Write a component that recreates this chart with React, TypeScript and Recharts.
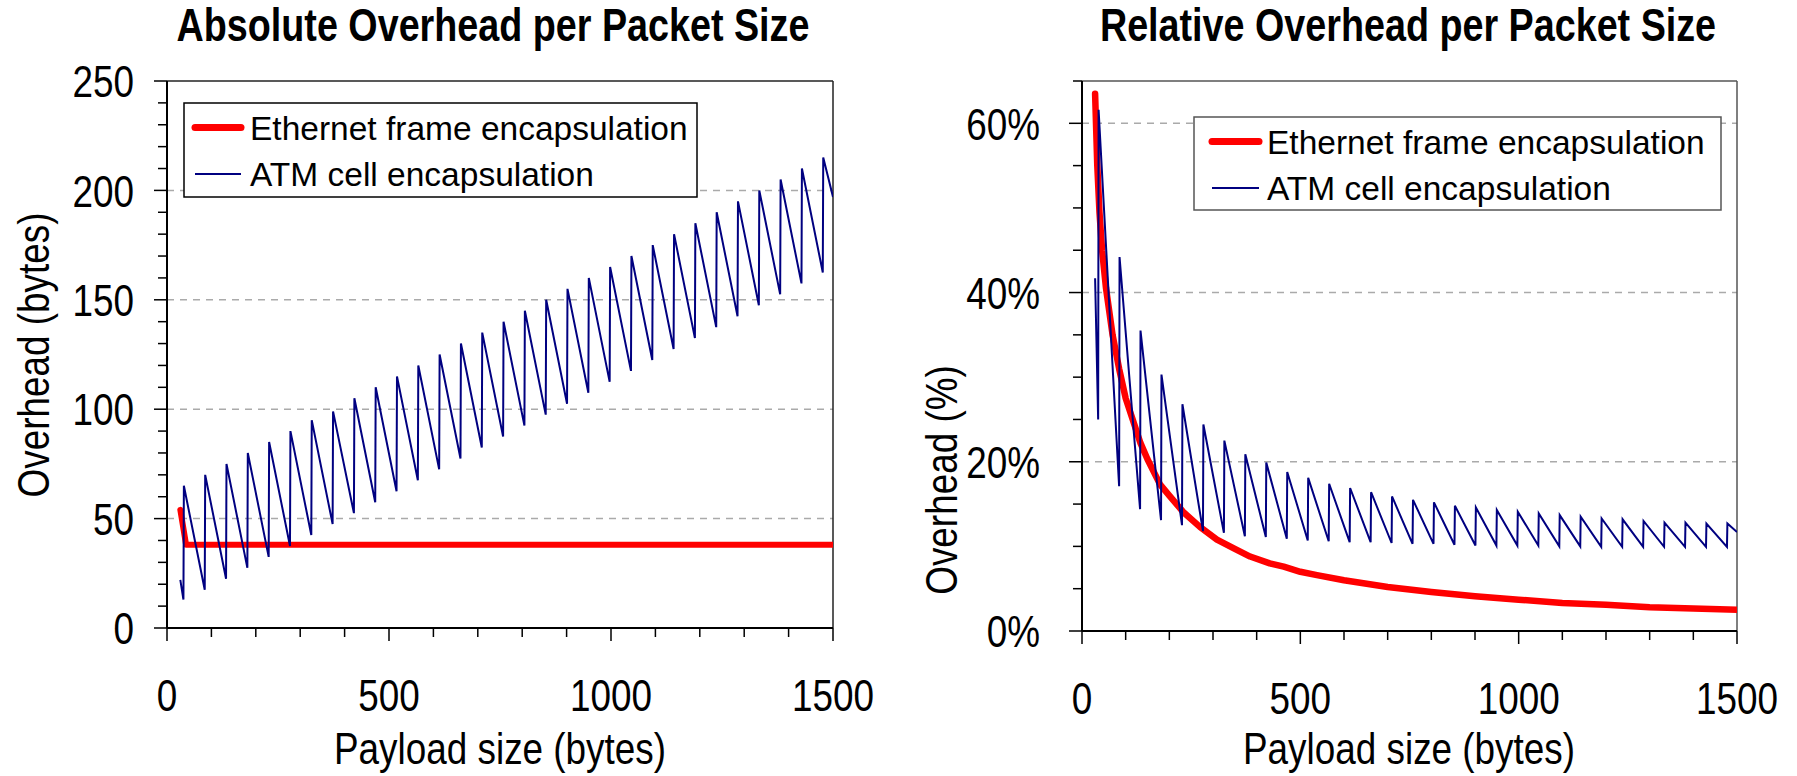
import { LineChart, Line, XAxis, YAxis, ReferenceLine } from 'recharts'

const FONT = "'Liberation Sans', Arial, Helvetica, sans-serif"
const NARROW = 0.82
const RED = '#ff0000'
const NAVY = '#000080'

// ATM: payload (bytes) where a tooth jumps up (new cell) and where it bottoms out
const atmPeakX = [38, 86, 134, 182, 230, 278, 326, 374, 422, 470, 518, 566, 614, 662, 710, 758, 806, 854, 902, 950, 998, 1046, 1094, 1142, 1190, 1238, 1286, 1334, 1382, 1430, 1478]
const atmTroughX = [85, 133, 181, 229, 277, 325, 373, 421, 469, 517, 565, 613, 661, 709, 757, 805, 853, 901, 949, 997, 1045, 1093, 1141, 1189, 1237, 1285, 1333, 1381, 1429, 1477]
const atmHeadX = [30, 37]
const atmEndX = 1500

// absolute overhead (bytes)
const atmAbsHead = [22, 13]
const atmAbsPeak = [65, 70, 75, 80, 85, 90, 95, 99, 105, 110, 115, 120, 125, 130, 135, 140, 145, 150, 155, 160, 165, 170, 175, 180, 185, 190, 195, 200, 205, 210, 215]
const atmAbsTrough = [17.5, 22.5, 27.5, 32.5, 37.5, 42.5, 47.5, 52.5, 57.5, 62.5, 67.5, 72.5, 77.5, 82.5, 87.5, 92.5, 97.5, 102.5, 107.5, 112.5, 117.5, 122.5, 127.5, 132.5, 137.5, 142.5, 147.5, 152.5, 157.5, 162.5]
const atmAbsEnd = 197

const ethAbsX = [30, 43, 1500]
const ethAbsY = [54, 38, 38]

// relative overhead (%)
const atmRelHead = [41.7, 25]
const atmRelPeak = [61.6, 44.2, 35.5, 30.3, 26.8, 24.4, 22.5, 20.9, 19.9, 18.8, 18.1, 17.4, 16.9, 16.4, 15.9, 15.5, 15.2, 14.8, 14.6, 14.3, 14.1, 13.9, 13.7, 13.5, 13.3, 13.2, 13.0, 12.8, 12.8, 12.7, 12.7]
const atmRelTrough = [17.1, 14.4, 13.1, 12.5, 11.8, 11.6, 11.2, 11.1, 10.9, 10.7, 10.6, 10.5, 10.5, 10.4, 10.3, 10.3, 10.2, 10.1, 10.1, 10.1, 10.1, 10.0, 10.0, 9.95, 9.95, 9.95, 9.95, 9.95, 9.95, 9.95]
const atmRelEnd = 11.7

const ethRelX = [30, 35, 40, 46, 55, 70, 85, 100, 134, 150, 179, 200, 233, 270, 309, 350, 385, 430, 462, 500, 538, 600, 700, 800, 900, 1000, 1100, 1200, 1300, 1400, 1500]
const ethRelY = [63.5, 55, 49.5, 45, 40.5, 35, 31, 27.5, 22.2, 20.3, 17.3, 16, 14, 12.3, 10.8, 9.7, 8.8, 8, 7.6, 7, 6.6, 6, 5.2, 4.6, 4.1, 3.7, 3.3, 3.1, 2.8, 2.65, 2.5]

// axes
const xTicks = [0, 100, 200, 300, 400, 500, 600, 700, 800, 900, 1000, 1100, 1200, 1300, 1400, 1500]
const xLabels = [0, 500, 1000, 1500]
const absTicks = [0, 10, 20, 30, 40, 50, 60, 70, 80, 90, 100, 110, 120, 130, 140, 150, 160, 170, 180, 190, 200, 210, 220, 230, 240, 250]
const absLabels = [0, 50, 100, 150, 200, 250]
const absGrid = [50, 100, 150, 200]
const relTicks = [0, 5, 10, 15, 20, 25, 30, 35, 40, 45, 50, 55, 60, 65]
const relLabels = [0, 20, 40, 60]
const relGrid = [20, 40, 60]

const zip = (xs: number[], ys: number[]) => xs.map((x, i) => ({ x, y: ys[i] }))

function sawtooth(head: number[], peak: number[], trough: number[], end: number) {
  const pts = zip(atmHeadX, head)
  atmPeakX.forEach((x, i) => {
    pts.push({ x, y: peak[i] })
    if (i < trough.length) pts.push({ x: atmTroughX[i], y: trough[i] })
  })
  pts.push({ x: atmEndX, y: end })
  return pts
}

const yTick = (labels: number[], fmt: (v: number) => string, gap: number) => (p: any) => {
  const { x, y, payload } = p
  const major = labels.includes(payload.value)
  return (
    <g>
      <line x1={x - (major ? 13 : 9)} x2={x} y1={y} y2={y} stroke="#000" strokeWidth={1.5} />
      {major && (
        <text transform={`translate(${x - gap},${y}) scale(${NARROW},1)`} textAnchor="end" dy="0.36em"
          fontSize={45} fontFamily={FONT} fill="#000">{fmt(payload.value)}</text>
      )}
    </g>
  )
}

const xTick = (p: any) => {
  const { x, y, payload } = p
  const major = xLabels.includes(payload.value)
  return (
    <g>
      <line x1={x} x2={x} y1={y} y2={y + (major ? 13 : 9)} stroke="#000" strokeWidth={1.5} />
      {major && (
        <text transform={`translate(${x},${y + 83}) scale(${NARROW},1)`} textAnchor="middle"
          fontSize={45} fontFamily={FONT} fill="#000">{payload.value}</text>
      )}
    </g>
  )
}

interface PanelProps {
  width: number
  margin: { top: number; right: number; bottom: number; left: number }
  yMax: number
  yTicks: number[]
  yLabels: number[]
  grid: number[]
  fmt: (v: number) => string
  gap: number
  eth: Array<{ x: number; y: number }>
  atm: Array<{ x: number; y: number }>
  ethWidth: number
  frame: string
}

function Panel({ width, margin, yMax, yTicks, yLabels, grid, fmt, gap, eth, atm, ethWidth, frame }: PanelProps) {
  return (
    <LineChart width={width} height={776} margin={margin}>
      <XAxis type="number" dataKey="x" domain={[0, 1500]} ticks={xTicks} interval={0} allowDataOverflow
        height={40} tickLine={false} tickSize={0} tickMargin={0} tick={xTick}
        axisLine={{ stroke: '#000', strokeWidth: 2 }} />
      <YAxis type="number" dataKey="y" domain={[0, yMax]} ticks={yTicks} interval={0} allowDataOverflow
        width={60} tickLine={false} tickSize={0} tickMargin={0} tick={yTick(yLabels, fmt, gap)}
        axisLine={{ stroke: '#000', strokeWidth: 2 }} />
      {grid.map((v) => (
        <ReferenceLine key={v} y={v} stroke="#aaaaaa" strokeWidth={1.5} strokeDasharray="7 6" />
      ))}
      <ReferenceLine y={yMax} stroke={frame} strokeWidth={1.5} />
      <ReferenceLine x={1500} stroke={frame} strokeWidth={1.5} />
      <Line data={eth} dataKey="y" type="linear" stroke={RED} strokeWidth={ethWidth} strokeLinecap="round"
        strokeLinejoin="round" dot={false} activeDot={false} isAnimationActive={false} />
      <Line data={atm} dataKey="y" type="linear" stroke={NAVY} strokeWidth={2} dot={false} activeDot={false}
        isAnimationActive={false} />
    </LineChart>
  )
}

function LegendBox({ x, y, w, h, border, sx, sw, tx, r1, r2 }: {
  x: number; y: number; w: number; h: number; border: string; sx: number; sw: number; tx: number; r1: number; r2: number
}) {
  const fs = 33.5
  return (
    <g>
      <rect x={x} y={y} width={w} height={h} fill="#fff" stroke={border} strokeWidth={1.5} />
      <line x1={sx} x2={sx + sw} y1={r1} y2={r1} stroke={RED} strokeWidth={7} strokeLinecap="round" />
      <line x1={sx} x2={sx + sw} y1={r2} y2={r2} stroke={NAVY} strokeWidth={2} />
      <text x={tx} y={r1} dy="0.36em" fontSize={fs} fontFamily={FONT} fill="#000">Ethernet frame encapsulation</text>
      <text x={tx} y={r2} dy="0.36em" fontSize={fs} fontFamily={FONT} fill="#000">ATM cell encapsulation</text>
    </g>
  )
}

function Narrow({ x, y, size, bold, rotate, children }: { x: number; y: number; size: number; bold?: boolean; rotate?: boolean; children: string }) {
  return (
    <text transform={`translate(${x},${y})${rotate ? ' rotate(-90)' : ''} scale(${NARROW},1)`} textAnchor="middle"
      dy={rotate ? '0.33em' : undefined} fontSize={size} fontWeight={bold ? 'bold' : 'normal'} fontFamily={FONT} fill="#000">
      {children}
    </text>
  )
}

export default function App() {
  const ethAbs = zip(ethAbsX, ethAbsY)
  const atmAbs = sawtooth(atmAbsHead, atmAbsPeak, atmAbsTrough, atmAbsEnd)
  const ethRel = zip(ethRelX, ethRelY)
  const atmRel = sawtooth(atmRelHead, atmRelPeak, atmRelTrough, atmRelEnd)

  return (
    <div style={{ position: 'relative', width: 1797, height: 776, background: '#fff', overflow: 'hidden' }}>
      <style>{'body{margin:0}'}</style>
      {/* Absolute overhead */}
      <div style={{ position: 'absolute', left: 0, top: 0 }}>
        <Panel width={900} margin={{ top: 81, right: 67, bottom: 108, left: 107 }} yMax={250}
          yTicks={absTicks} yLabels={absLabels} grid={absGrid} fmt={(v) => String(v)} gap={33}
          eth={ethAbs} atm={atmAbs} ethWidth={6} frame="#222" />
      </div>
      {/* Relative overhead */}
      <div style={{ position: 'absolute', left: 900, top: 0 }}>
        <Panel width={897} margin={{ top: 81, right: 60, bottom: 105, left: 122 }} yMax={65}
          yTicks={relTicks} yLabels={relLabels} grid={relGrid} fmt={(v) => `${v}%`} gap={42}
          eth={ethRel} atm={atmRel} ethWidth={6.5} frame="#555" />
      </div>
      <svg width={1797} height={776} style={{ position: 'absolute', left: 0, top: 0, pointerEvents: 'none' }}>
        <Narrow x={493} y={41} size={46} bold>Absolute Overhead per Packet Size</Narrow>
        <Narrow x={1408} y={41} size={46} bold>Relative Overhead per Packet Size</Narrow>
        <Narrow x={34} y={355} size={45} rotate>Overhead (bytes)</Narrow>
        <Narrow x={942} y={480} size={45} rotate>Overhead (%)</Narrow>
        <Narrow x={500} y={764} size={45}>Payload size (bytes)</Narrow>
        <Narrow x={1409} y={764} size={45}>Payload size (bytes)</Narrow>
        <LegendBox x={184} y={103} w={513} h={94} border="#000" sx={195} sw={46} tx={250} r1={127.5} r2={174} />
        <LegendBox x={1194} y={117} w={527} h={93} border="#555" sx={1212} sw={47} tx={1267} r1={141.5} r2={188} />
      </svg>
    </div>
  )
}
